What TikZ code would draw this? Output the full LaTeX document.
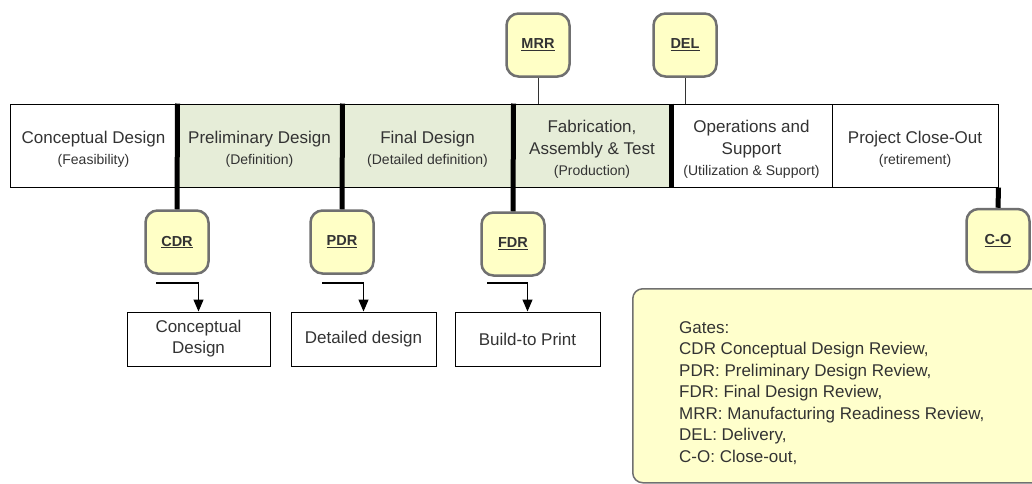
\documentclass[tikz,border=0pt]{standalone}
\usepackage{fontspec}
\setmainfont{Liberation Sans}
\usetikzlibrary{arrows.meta}
\definecolor{phasegreen}{HTML}{E6EDD8}
\definecolor{gatefill}{HTML}{FFFFC6}
\definecolor{legendfill}{HTML}{FFFFCC}
\definecolor{gateborder}{HTML}{707070}
\definecolor{txt}{HTML}{333333}
\newcommand{\ttl}{\fontsize{17}{21.5}\selectfont}
\newcommand{\fst}{\ttl\rule{0pt}{20pt}}
\newcommand{\sbt}{\fontsize{14}{21.5}\selectfont}
\tikzset{
  cell/.style={draw=black, line width=1pt, minimum height=83, inner sep=0, align=center, text=txt,
    font=\fontsize{17}{21.5}\selectfont},
  greencell/.style={cell, fill=phasegreen},
  gatebox/.style={draw=gateborder, fill=gatefill, line width=2.5pt, rounded corners=12pt,
    minimum width=63, minimum height=63, inner sep=0, font=\fontsize{14.5}{17}\selectfont\bfseries, text=txt},
  outbox/.style={draw=black, line width=1pt, minimum height=54, inner sep=0, align=center,
    font=\fontsize{17}{21}\selectfont, text=txt},
  milestone/.style={line width=5pt, black},
  thinlink/.style={line width=1pt, black!80},
  bendarrow/.style={line width=1.2pt, -{Triangle[width=10pt,length=12pt]}},
}
\begin{document}
\begin{tikzpicture}[x=1pt,y=-1pt]
\useasboundingbox (0,0) rectangle (1032,483);
\clip (0,0) rectangle (1032,483);
\fill[white] (0,0) rectangle (1032,483);

% phase bar
\node[cell, minimum width=167] (c1) at (93.5,145.5) {\fst Conceptual Design\\\sbt (Feasibility)};
\node[greencell, minimum width=165] (c2) at (259.5,145.5) {\fst Preliminary Design\\\sbt (Definition)};
\node[greencell, minimum width=171] (c3) at (427.5,145.5) {\fst Final Design\\\sbt (Detailed definition)};
\node[greencell, minimum width=158] (c4) at (592,145.5) {\fst Fabrication,\\\ttl Assembly \& Test\\\sbt (Production)};
\node[cell, minimum width=161] (c5) at (751.5,145.5) {\fst Operations and\\\ttl Support\\\sbt (Utilization \& Support)};
\node[cell, minimum width=166] (c6) at (915,145.5) {\fst Project Close-Out\\\sbt (retirement)};

% gates
\node[gatebox] (cdr) at (177,242) {\underline{CDR}};
\node[gatebox] (pdr) at (342,242) {\underline{PDR}};
\node[gatebox] (fdr) at (513,244) {\underline{FDR}};
\node[gatebox] (co) at (998,240.5) {\underline{C-O}};
\node[gatebox] (mrr) at (538,45) {\underline{MRR}};
\node[gatebox] (del) at (685,45) {\underline{DEL}};

% milestone lines
\draw[milestone] (c1.north east) -- (cdr.north);
\draw[milestone] (c2.north east) -- (pdr.north);
\draw[milestone] (c3.north east) -- (fdr.north);
\draw[milestone] (c4.north east) -- (c4.south east);
\draw[milestone] (c6.south east) -- (co.north);
\draw[thinlink] (mrr.south) -- (mrr.south |- c4.north);
\draw[thinlink] (del.south) -- (del.south |- c5.north);

% outputs
\node[outbox, minimum width=143] (b1) at (198.5,339) {Conceptual\\Design};
\node[outbox, minimum width=145] (b2) at (363.5,339) {Detailed design};
\node[outbox, minimum width=145] (b3) at (527.5,339) {Build-to Print};
\coordinate (s1) at (156,283);
\coordinate (s2) at (322,283);
\coordinate (s3) at (487,283);
\draw[bendarrow] (s1) -| (b1.north);
\draw[bendarrow] (s2) -| (b2.north);
\draw[bendarrow] (s3) -| (b3.north);

% legend
\node[draw=gateborder, fill=legendfill, line width=1.5pt, rounded corners=10pt,
  minimum width=420, minimum height=194, anchor=north west, inner sep=0] (legend) at (632,288) {};
\node[anchor=north west, align=left, inner sep=0, text=txt, font=\fontsize{17}{21.5}\selectfont]
  (legendtext) at (679,321) {Gates:\\CDR Conceptual Design Review,\\PDR: Preliminary Design Review,\\FDR: Final Design Review,\\MRR: Manufacturing Readiness Review,\\DEL: Delivery,\\C-O: Close-out,};
\end{tikzpicture}
\end{document}
